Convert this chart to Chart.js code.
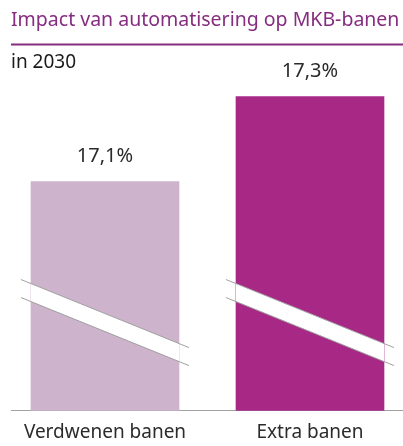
<!DOCTYPE html>
<html>
<head>
<meta charset="utf-8">
<script src="https://cdn.jsdelivr.net/npm/chart.js@4.4.1/dist/chart.umd.min.js"></script>
<style>
	html, body { margin: 0; padding: 0; background: #fff; }
	#wrap { width: 403px; height: 446px; }
</style>
</head>
<body>
<div id="wrap"><canvas id="chart"></canvas></div>
<script>
// data
const categories = ["Verdwenen banen", "Extra banen"];
const values = [17.1, 17.3];
const valueLabels = ["17,1%", "17,3%"];
const barColors = ["#cdb4cc", "#a82886"];

const titleText = "Impact van automatisering op MKB-banen";
const subtitleText = "in 2030";

// where the axis break sits (in value units), and its look
const breakAt = 16.86;
const breakSlope = 0.405;
const breakGap = 18;

const fontFamily = "'Noto Sans', sans-serif";

// lijn onder de titel
const titleLine = {
	id: "titleLine",
	afterDraw(chart) {
		const ctx = chart.ctx;
		const t = chart.titleBlock;
		ctx.save();
		ctx.strokeStyle = "#862d80";
		ctx.lineWidth = 2;
		ctx.beginPath();
		ctx.moveTo(t.left, t.bottom - 1);
		ctx.lineTo(chart.width, t.bottom - 1);
		ctx.stroke();
		ctx.restore();
	},
};

// onderbroken as + waarden boven de staven
const breakAndLabels = {
	id: "breakAndLabels",
	afterDatasetsDraw(chart) {
		const ctx = chart.ctx;
		const y = chart.scales.y;
		const meta = chart.getDatasetMeta(0);
		ctx.save();
		meta.data.forEach((bar, i) => {
			const left = bar.x - bar.width / 2;
			const right = bar.x + bar.width / 2;
			const y0 = y.getPixelForValue(breakAt);
			const at = (x) => y0 + (x - left) * breakSlope;

			ctx.fillStyle = "#fff";
			ctx.beginPath();
			ctx.moveTo(left, at(left));
			ctx.lineTo(right, at(right));
			ctx.lineTo(right, at(right) + breakGap);
			ctx.lineTo(left, at(left) + breakGap);
			ctx.closePath();
			ctx.fill();

			ctx.strokeStyle = "#a0a0a0";
			ctx.lineWidth = 1;
			const ext = 10;
			[0, breakGap].forEach((off) => {
				ctx.beginPath();
				ctx.moveTo(left - ext, at(left - ext) + off);
				ctx.lineTo(right + ext, at(right + ext) + off);
				ctx.stroke();
			});

			ctx.fillStyle = "#2b2b2b";
			ctx.font = "20px " + fontFamily;
			ctx.textAlign = "center";
			ctx.textBaseline = "middle";
			ctx.fillText(valueLabels[i], bar.x, bar.y - 25);
		});
		ctx.restore();
	},
};

new Chart(document.getElementById("chart"), {
	type: "bar",
	data: {
		datasets: [
			{
				data: categories.map((c, i) => ({ x: i, y: values[i] })),
				backgroundColor: barColors,
				barThickness: 148,
				borderWidth: 0,
			},
		],
	},
	options: {
		responsive: true,
		maintainAspectRatio: false,
		animation: false,
		layout: { padding: { left: 11, right: 0, top: 0, bottom: -7.5 } },
		plugins: {
			legend: { display: false },
			tooltip: { enabled: false },
			title: {
				display: true,
				text: titleText,
				align: "start",
				color: "#862d80",
				font: { family: fontFamily, size: 19.5, weight: "normal", lineHeight: 1.2 },
				padding: { top: 9, bottom: 13 },
			},
			subtitle: {
				display: true,
				text: subtitleText,
				align: "start",
				color: "#1a1a1a",
				font: { family: fontFamily, size: 19, weight: "normal", lineHeight: 1.2 },
				padding: { top: 6, bottom: 0 },
			},
		},
		scales: {
			x: {
				type: "linear",
				offset: false,
				min: -0.4585,
				max: 1.4537,
				afterBuildTicks: (scale) => {
					scale.ticks = categories.map((c, i) => ({ value: i }));
				},
				grid: { display: false, drawTicks: false, offset: false },
				border: { display: true, color: "#a0a0a0", width: 1 },
				ticks: {
					color: "#2b2b2b",
					padding: 10,
					maxRotation: 0,
					autoSkip: false,
					font: { family: fontFamily, size: 19 },
					callback: (v) => categories[v],
				},
			},
			y: {
				display: false,
				min: 16.561,
				max: 17.3526,
			},
		},
	},
	plugins: [titleLine, breakAndLabels],
});
</script>
</body>
</html>
